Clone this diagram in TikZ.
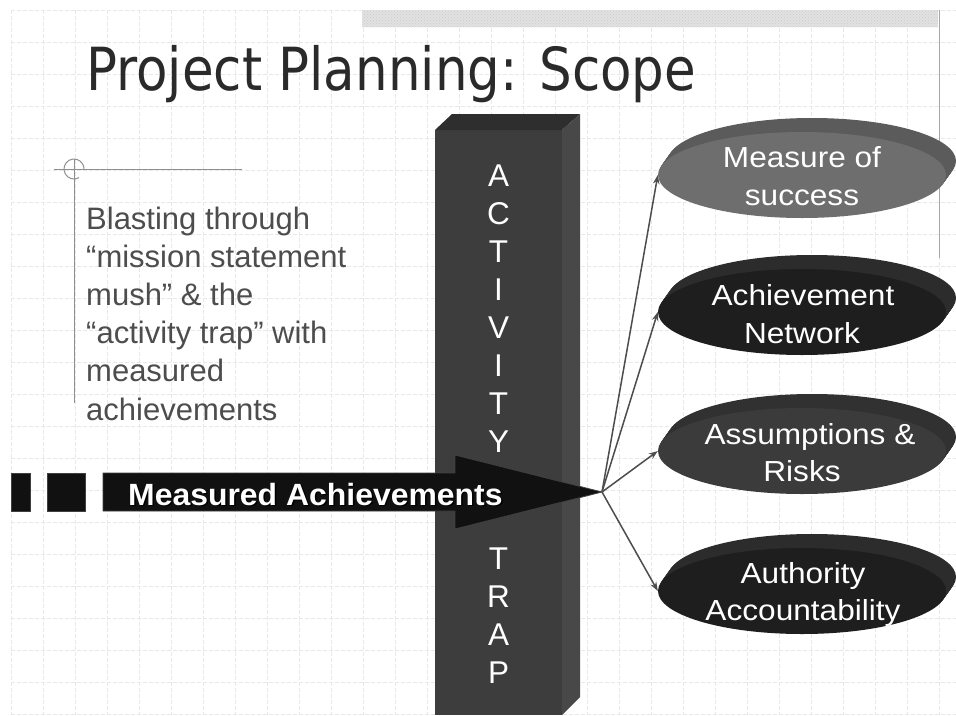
\documentclass[tikz,border=0pt]{standalone}
\usepackage{fontspec}
\setmainfont{Liberation Sans}
\newfontfamily\titlefont{DejaVu Sans}
\usetikzlibrary{shapes.geometric,arrows.meta,patterns}

\definecolor{gridcol}{HTML}{E8E8E8}
\definecolor{titlecol}{HTML}{2A2A2A}
\definecolor{bodycol}{HTML}{4D4D4D}
\definecolor{decocol}{HTML}{8F8F8F}
\definecolor{rulecol}{HTML}{A6A6A6}
\definecolor{bandcol}{HTML}{E2E2E2}
\definecolor{bandcol2}{HTML}{C9C9C9}
\definecolor{colfront}{HTML}{3D3D3D}
\definecolor{coltop}{HTML}{2E2E2E}
\definecolor{colside}{HTML}{484848}
\definecolor{arrowcol}{HTML}{111111}
\definecolor{linkcol}{HTML}{4D4D4D}
\definecolor{ovalA}{HTML}{6E6E6E}
\definecolor{ovalAside}{HTML}{5B5B5B}
\definecolor{ovalB}{HTML}{1E1E1E}
\definecolor{ovalBside}{HTML}{2C2C2C}
\definecolor{ovalC}{HTML}{3B3B3B}
\definecolor{ovalCside}{HTML}{313131}

\tikzset{
  gridln/.style={draw=gridcol, line width=1pt, dash pattern=on 4pt off 2pt},
  bodytext/.style={inner sep=0pt, text=bodycol, font=\fontsize{31}{38}\selectfont},
  colletter/.style={inner sep=0pt, text=white, font=\fontsize{31.5}{38}\selectfont},
  ovaltext/.style={inner sep=0pt, text=white, font=\fontsize{29}{38}\selectfont},
  oval/.style={ellipse, draw=none, minimum width=288pt, minimum height=86pt, inner sep=0pt},
  link/.style={draw=linkcol, line width=1.5pt, -{Stealth[length=9pt,width=6.5pt]}},
  blackbar/.style={fill=arrowcol, draw=black!75, line width=0.8pt}
}

% extruded oval: name, centre y, face colour, side colour
\newcommand\solidoval[4]{%
  \foreach \s in {12,...,1}
    \fill[#4] ({802+10*\s/12},{#2-14*\s/12}) ellipse [x radius=144, y radius=43];
  \node[oval, fill=#3] (#1) at (802,#2) {};
}

\begin{document}
\begin{tikzpicture}[x=1pt,y=-1pt]
\useasboundingbox[fill=white] (0,0) rectangle (956,715);

% background grid
\foreach \k in {0,...,29}
  \draw[gridln] ({11+32*\k},10) -- ({11+32*\k},715);
\foreach \k in {0,...,22}
  \draw[gridln] (11,{10+32*\k}) -- (956,{10+32*\k});

% top band and right rule
\fill[bandcol] (362,10) rectangle (938,27);
\fill[pattern=crosshatch dots, pattern color=bandcol2] (362,10) rectangle (938,27);
\draw[rulecol, line width=1pt] (939,10) -- (939,258);

% title
\node[anchor=base west, inner sep=0pt, text=titlecol] (title) at (86,90)
  {\resizebox{610pt}{\height}{\titlefont\fontsize{59.4}{60}\selectfont Project Planning: Scope}};

% corner ornament of the text block
\draw[decocol, line width=1pt] (54,169) -- (242,169);
\draw[decocol, line width=1pt] (74,159) -- (74,403);
\draw[decocol, line width=1pt] (74,169) ++(60:10) arc[start angle=60, end angle=360, radius=10];

% text block
\foreach \t [count=\i] in {Blasting through,“mission statement,mush” \& the,“activity trap” with,measured,achievements}
  \node[bodytext, anchor=base west] (b\i) at (86,{229+38.2*(\i-1)}) {\t};

% the column
\fill[colfront] (435,130) rectangle (562,715);
\fill[coltop] (435,130) -- (452,114) -- (580,114) -- (562,130) -- cycle;
\fill[colside] (562,130) -- (580,114) -- (580,697) -- (562,715) -- cycle;
\foreach \c [count=\i from 0] in {A,C,T,I,V,I,T,Y}
  \node[colletter, anchor=base] (ca\i) at (498.5,{186+38*\i}) {\c};
\foreach \c [count=\i from 0] in {T,R,A,P}
  \node[colletter, anchor=base] (cb\i) at (498.5,{569+38*\i}) {\c};

% big arrow
\coordinate (mtip) at (602,492);
\fill[blackbar] (11,473) rectangle (30,511);
\fill[blackbar] (47,473) rectangle (85,511);
\filldraw[blackbar] (103,473) -- (455,473) -- (455,455) -- (mtip) -- (455,529) -- (455,511) -- (103,511) -- cycle;
\node[anchor=base west, inner sep=0pt, text=black, font=\bfseries\fontsize{30.7}{36}\selectfont] (mshadow) at (129.5,506.5)
  {\scalebox{1.04}[1]{Measured Achievements}};
\node[anchor=base west, inner sep=0pt, text=white, font=\bfseries\fontsize{30.7}{36}\selectfont] (mlabel) at (128,505)
  {\scalebox{1.04}[1]{Measured Achievements}};

% ovals
\solidoval{e1}{175}{ovalA}{ovalAside}
\solidoval{e2}{312}{ovalB}{ovalBside}
\solidoval{e3}{451}{ovalC}{ovalCside}
\solidoval{e4}{591}{ovalB}{ovalBside}

\node[ovaltext, anchor=base] (t1a) at (802,167) {\scalebox{1.09}[1]{Measure of}};
\node[ovaltext, anchor=base] (t1b) at (802,205) {\scalebox{1.09}[1]{success}};
\node[ovaltext, anchor=base] (t2a) at (803,305) {\scalebox{1.09}[1]{Achievement}};
\node[ovaltext, anchor=base] (t2b) at (802,343) {\scalebox{1.09}[1]{Network}};
\node[ovaltext, anchor=base] (t3a) at (810,444) {\scalebox{1.09}[1]{Assumptions \&}};
\node[ovaltext, anchor=base] (t3b) at (802,481) {\scalebox{1.09}[1]{Risks}};
\node[ovaltext, anchor=base] (t4a) at (803,583) {\scalebox{1.09}[1]{Authority}};
\node[ovaltext, anchor=base] (t4b) at (803,620) {\scalebox{1.09}[1]{Accountability}};

% connectors
\foreach \e in {e1,e2,e3,e4}
  \draw[link] (mtip) -- (\e.west);
\end{tikzpicture}
\end{document}
